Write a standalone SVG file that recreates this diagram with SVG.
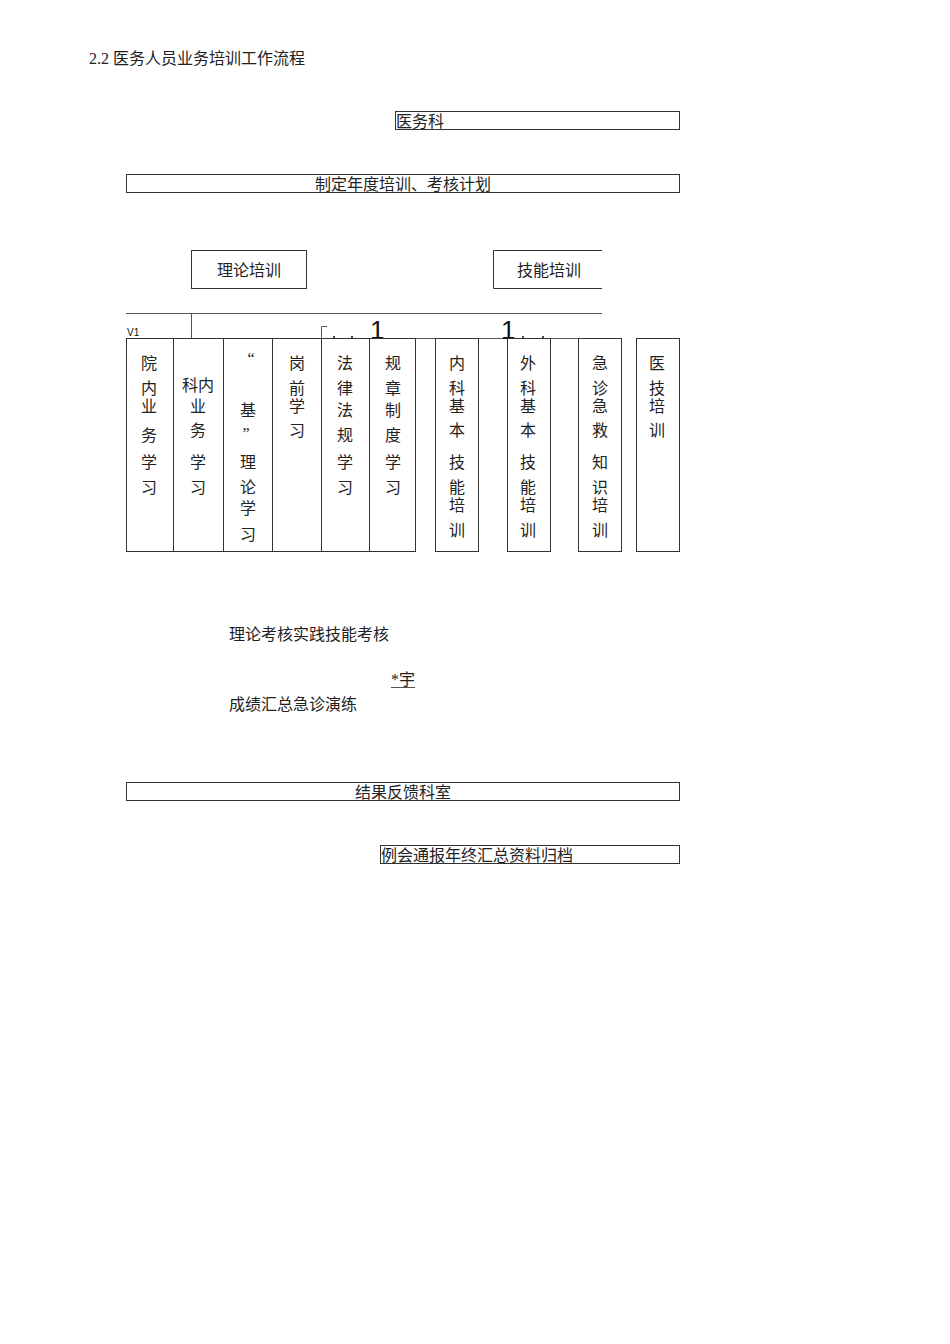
<svg xmlns="http://www.w3.org/2000/svg" width="950" height="1344" viewBox="0 0 950 1344">
<style>
.t{font-family:"Liberation Serif","Noto Sans CJK SC",serif;font-size:16px;fill:#222}
.c{text-anchor:middle}
.b{fill:none;stroke:#333;stroke-width:1}
.l{stroke:#555;stroke-width:1;fill:none}
.s{font-family:"Liberation Sans",sans-serif;fill:#111}
</style>
<rect width="950" height="1344" fill="#fff"/>
<text class="t" x="89" y="64">2.2 医务人员业务培训工作流程</text>
<g id="n-yiwuke"><rect class="b" x="395.5" y="111.5" width="284" height="18"/><text class="t" x="396" y="127">医务科</text></g>
<g id="n-plan"><rect class="b" x="126.5" y="174.5" width="553" height="18"/><text class="t c" x="403" y="190">制定年度培训、考核计划</text></g>
<g id="n-theory"><rect class="b" x="191.5" y="250.5" width="115" height="38"/><text class="t c" x="249" y="276">理论培训</text></g>
<g id="n-skill"><path class="b" d="M602 250.5H493.5V288.5H602"/><text class="t c" x="549" y="276">技能培训</text></g>
<g id="connectors">
<path class="l" d="M126 313.5H602M191.5 313V338M126 338.5H602"/>
<path class="l" d="M321.5 338V326.5H327"/>
<text class="s" x="127" y="336" style="font-size:10px">V1</text>
<circle cx="334" cy="337" r="1" fill="#111"/><circle cx="352" cy="337" r="1" fill="#111"/>
<text class="s" x="370" y="339" style="font-size:26px">1</text>
<text class="s" x="501" y="339" style="font-size:26px">1</text>
<circle cx="523" cy="337" r="1" fill="#111"/><circle cx="543" cy="337" r="1" fill="#111"/>
</g>
<g id="n-c1"><rect class="b" x="126.5" y="338.5" width="47" height="213"/><text class="t c"><tspan x="149" y="369">院</tspan><tspan x="149" y="394">内</tspan><tspan x="149" y="412">业</tspan><tspan x="149" y="441">务</tspan><tspan x="149" y="468">学</tspan><tspan x="149" y="493">习</tspan></text></g>
<g id="n-c2"><rect class="b" x="173.5" y="338.5" width="50" height="213"/><text class="t c"><tspan x="198" y="391">科内</tspan><tspan x="198" y="412">业</tspan><tspan x="198" y="436">务</tspan><tspan x="198" y="468">学</tspan><tspan x="198" y="493">习</tspan></text></g>
<g id="n-c3"><rect class="b" x="223.5" y="338.5" width="49" height="213"/><text class="t c"><tspan x="251" y="364">“</tspan><tspan x="248" y="416">基</tspan><tspan x="246" y="439">”</tspan><tspan x="248" y="468">理</tspan><tspan x="248" y="493">论</tspan><tspan x="248" y="514">学</tspan><tspan x="248" y="540">习</tspan></text></g>
<g id="n-c4"><rect class="b" x="272.5" y="338.5" width="49" height="213"/><text class="t c"><tspan x="297" y="369">岗</tspan><tspan x="297" y="394">前</tspan><tspan x="297" y="412">学</tspan><tspan x="297" y="436">习</tspan></text></g>
<g id="n-c5"><rect class="b" x="321.5" y="338.5" width="48" height="213"/><text class="t c"><tspan x="345" y="369">法</tspan><tspan x="345" y="394">律</tspan><tspan x="345" y="416">法</tspan><tspan x="345" y="441">规</tspan><tspan x="345" y="468">学</tspan><tspan x="345" y="493">习</tspan></text></g>
<g id="n-c6"><rect class="b" x="369.5" y="338.5" width="46" height="213"/><text class="t c"><tspan x="393" y="369">规</tspan><tspan x="393" y="394">章</tspan><tspan x="393" y="416">制</tspan><tspan x="393" y="441">度</tspan><tspan x="393" y="468">学</tspan><tspan x="393" y="493">习</tspan></text></g>
<g id="n-c7"><rect class="b" x="435.5" y="338.5" width="43" height="213"/><text class="t c"><tspan x="457" y="369">内</tspan><tspan x="457" y="394">科</tspan><tspan x="457" y="412">基</tspan><tspan x="457" y="436">本</tspan><tspan x="457" y="468">技</tspan><tspan x="457" y="493">能</tspan><tspan x="457" y="511">培</tspan><tspan x="457" y="536">训</tspan></text></g>
<g id="n-c8"><rect class="b" x="507.5" y="338.5" width="43" height="213"/><text class="t c"><tspan x="528" y="369">外</tspan><tspan x="528" y="394">科</tspan><tspan x="528" y="412">基</tspan><tspan x="528" y="436">本</tspan><tspan x="528" y="468">技</tspan><tspan x="528" y="493">能</tspan><tspan x="528" y="511">培</tspan><tspan x="528" y="536">训</tspan></text></g>
<g id="n-c9"><rect class="b" x="578.5" y="338.5" width="43" height="213"/><text class="t c"><tspan x="600" y="369">急</tspan><tspan x="600" y="394">诊</tspan><tspan x="600" y="412">急</tspan><tspan x="600" y="436">救</tspan><tspan x="600" y="468">知</tspan><tspan x="600" y="493">识</tspan><tspan x="600" y="511">培</tspan><tspan x="600" y="536">训</tspan></text></g>
<g id="n-c10"><rect class="b" x="636.5" y="338.5" width="43" height="213"/><text class="t c"><tspan x="657" y="369">医</tspan><tspan x="657" y="394">技</tspan><tspan x="657" y="412">培</tspan><tspan x="657" y="436">训</tspan></text></g>
<g id="n-exam"><text class="t" x="229" y="640">理论考核实践技能考核</text></g>
<g id="n-mark"><text class="t" x="391" y="685">*宇</text><line class="l" x1="391" y1="687.5" x2="415" y2="687.5"/></g>
<g id="n-sum"><text class="t" x="229" y="710">成绩汇总急诊演练</text></g>
<g id="n-feedback"><rect class="b" x="126.5" y="782.5" width="553" height="18"/><text class="t c" x="403" y="798">结果反馈科室</text></g>
<g id="n-archive"><rect class="b" x="380.5" y="845.5" width="299" height="18"/><text class="t" x="381" y="861">例会通报年终汇总资料归档</text></g>
</svg>
